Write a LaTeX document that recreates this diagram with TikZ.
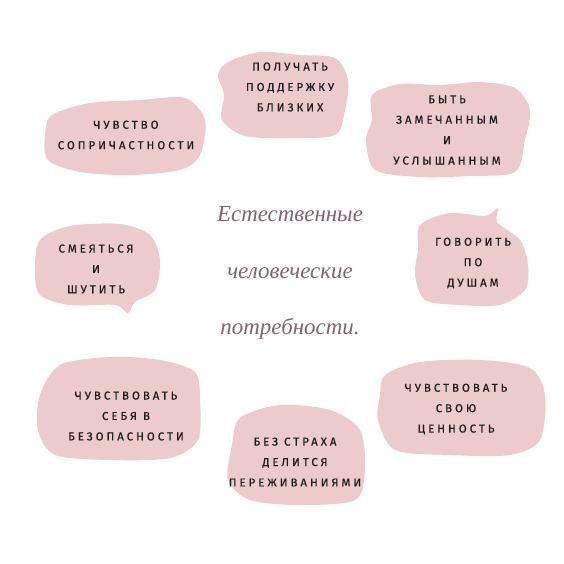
\documentclass[tikz,border=0pt]{standalone}
\usepackage{fontspec}
\newfontfamily\blobfont[LetterSpace=26,FakeBold=0.6]{Fira Sans}
\newfontfamily\titlefont{Liberation Serif}
\definecolor{blobpink}{HTML}{EDCACC}
\definecolor{titlemauve}{HTML}{7C6470}
\definecolor{ink}{HTML}{1E1E1E}
\tikzset{
  blob/.style={fill=blobpink, draw=none},
  need/.style={align=center, text=ink, font={\blobfont\fontsize{11.5}{20.5}\selectfont}},
  title/.style={align=center, text=titlemauve, font={\titlefont\itshape\fontsize{23}{57}\selectfont}}
}
\begin{document}
\begin{tikzpicture}[x=1bp,y=-1bp]
  \useasboundingbox (0,0) rectangle (564,564);
  % blobs
  \fill[blob] plot[smooth cycle] coordinates {(228,62) (260,52) (300,55) (335,58) (348,80) (345,110) (335,135) (290,138) (245,136) (222,120) (224,95) (218,75)};
  \fill[blob] plot[smooth cycle] coordinates {(372,95) (400,84) (440,85) (480,82) (515,88) (530,110) (525,140) (515,172) (470,176) (420,177) (375,170) (366,140) (372,120)};
  \fill[blob] plot[smooth cycle] coordinates {(52,115) (90,103) (140,100) (185,98) (205,120) (200,155) (180,170) (130,175) (80,172) (48,160) (45,135)};
  \fill[blob] plot[smooth cycle] coordinates {(40,240) (70,226) (120,224) (150,235) (160,260) (155,290) (135,302) (128,313) (115,305) (70,305) (40,295) (35,270)};
  \fill[blob] plot[smooth cycle] coordinates {(420,225) (450,213) (485,216) (498,208) (497,222) (520,240) (528,265) (525,290) (500,305) (460,305) (425,300) (415,275) (418,250)};
  \fill[blob] plot[smooth cycle] coordinates {(60,365) (110,357) (160,360) (195,372) (200,400) (198,440) (170,458) (110,460) (55,455) (38,430) (40,395)};
  \fill[blob] plot[smooth cycle] coordinates {(240,418) (280,405) (330,410) (360,430) (365,470) (355,500) (300,505) (250,500) (228,480) (232,445)};
  \fill[blob] plot[smooth cycle] coordinates {(385,375) (420,362) (480,360) (530,368) (545,395) (540,440) (510,455) (450,455) (395,450) (378,420) (380,395)};
  % texts
  \node[need] (support) at (290,87) {ПОЛУЧАТЬ\\ПОДДЕРЖКУ\\БЛИЗКИХ};
  \node[need] (heard) at (447,130) {БЫТЬ\\ЗАМЕЧАННЫМ\\И\\УСЛЫШАННЫМ};
  \node[need] (belong) at (126,135) {ЧУВСТВО\\СОПРИЧАСТНОСТИ};
  \node[need] (laugh) at (96,269) {СМЕЯТЬСЯ\\И\\ШУТИТЬ};
  \node[need] (talk) at (473,263) {ГОВОРИТЬ\\ПО\\ДУШАМ};
  \node[need] (safe) at (126,416) {ЧУВСТВОВАТЬ\\СЕБЯ В\\БЕЗОПАСНОСТИ};
  \node[need] (share) at (295,462) {БЕЗ СТРАХА\\ДЕЛИТСЯ\\ПЕРЕЖИВАНИЯМИ};
  \node[need] (worth) at (456,409) {ЧУВСТВОВАТЬ\\СВОЮ\\ЦЕННОСТЬ};
  \node[title] (needs) at (290,273) {Естественные\\человеческие\\потребности.};
\end{tikzpicture}
\end{document}
